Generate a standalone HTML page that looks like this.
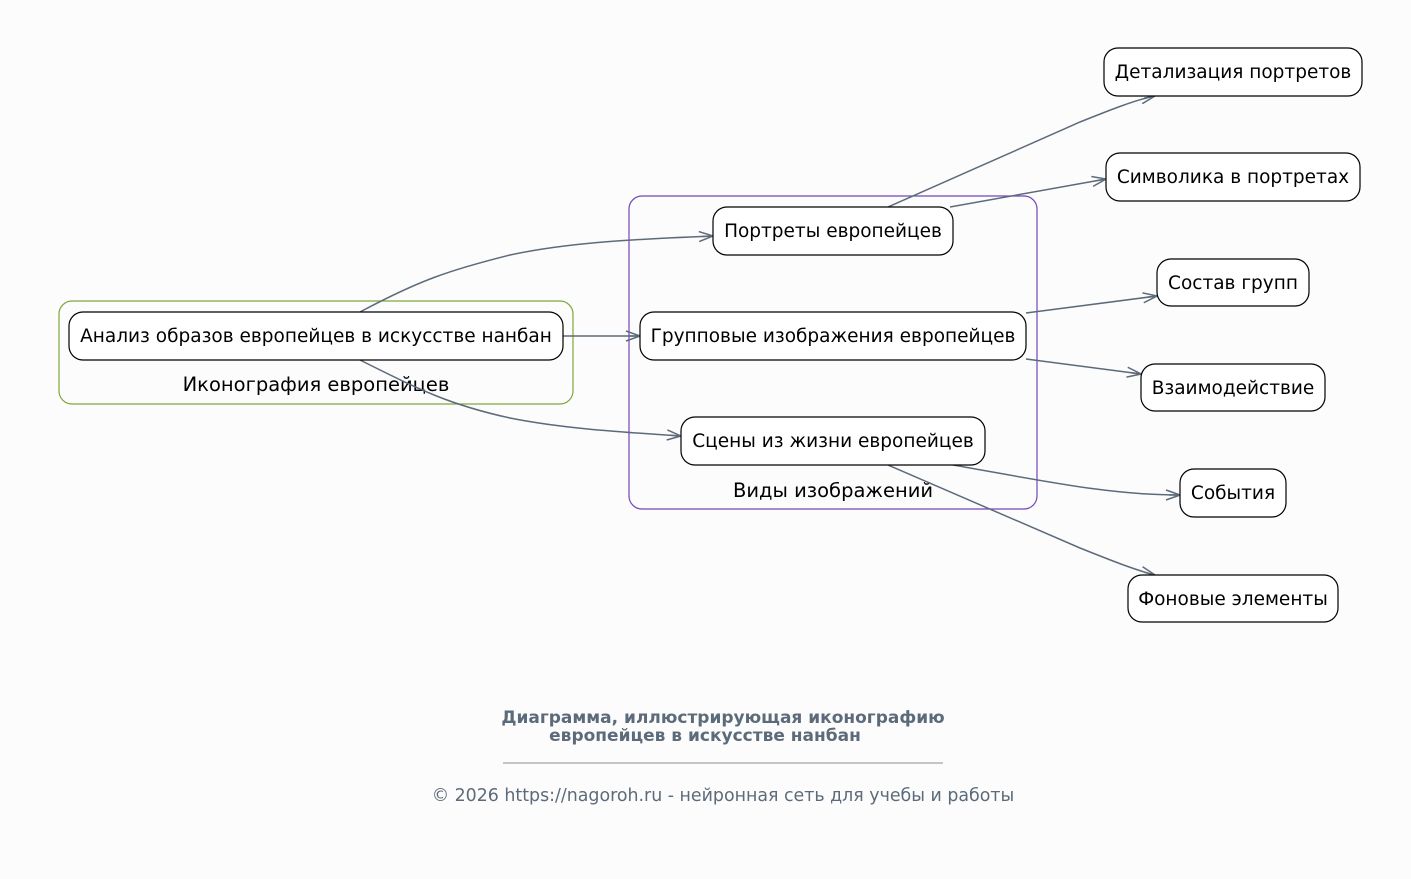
<!DOCTYPE html>
<html><head><meta charset="utf-8"><style>
html,body{margin:0;padding:0;background:#fdfcfc;}
svg{display:block;font-family:"DejaVu Sans","Liberation Sans",sans-serif;}
</style></head><body>
<svg width="1411" height="879" viewBox="0 0 1411 879" xmlns="http://www.w3.org/2000/svg">
<defs>
<marker id="a" markerWidth="16" markerHeight="12" refX="15" refY="6" orient="auto" markerUnits="userSpaceOnUse">
<path d="M1,1 L15,6 L1,11 M15,6 L4,6" fill="none" stroke="#5c6b7a" stroke-width="1.5"/>
</marker>
</defs>
<rect width="1411" height="879" fill="#fdfcfc"/>
<rect x="59" y="301" width="514" height="103" rx="13" fill="none" stroke="#7ea83a" stroke-width="1.2"/>
<text x="316" y="391" font-size="19.5" text-anchor="middle">Иконография европейцев</text>
<rect x="629" y="196" width="408" height="313" rx="13" fill="none" stroke="#7444b8" stroke-width="1.2"/>
<text x="833" y="497" font-size="19.5" text-anchor="middle">Виды изображений</text>
<g fill="none" stroke="#5c6b7a" stroke-width="1.5" marker-end="url(#a)">
<path d="M360,312 C420,280 450,270 510,255 C570,242 640,239 713,236"/>
<path d="M563,336 L640,336"/>
<path d="M360,360 C420,390 450,405 510,418 C570,430 640,433 681,436"/>
<path d="M888,207 C950,180 1020,148 1080,122 C1110,110 1135,100 1155,96"/>
<path d="M950,207 L1106,179"/>
<path d="M1026,313 L1157,296"/>
<path d="M1026,359 L1141,374"/>
<path d="M953,465 C1050,482 1110,495 1180,495"/>
<path d="M888,465 C950,492 1020,522 1080,548 C1110,560 1135,570 1155,575"/>
</g>
<g fill="#fff" stroke="#000" stroke-width="1.2">
<rect x="69" y="312" width="494" height="48" rx="14"/>
<rect x="713" y="207" width="240" height="48" rx="14"/>
<rect x="640" y="312" width="386" height="48" rx="14"/>
<rect x="681" y="417" width="304" height="48" rx="14"/>
<rect x="1104" y="48" width="258" height="48" rx="14"/>
<rect x="1106" y="153" width="254" height="48" rx="14"/>
<rect x="1157" y="259" width="152" height="47" rx="14"/>
<rect x="1141" y="364" width="184" height="47" rx="14"/>
<rect x="1180" y="469" width="106" height="48" rx="14"/>
<rect x="1128" y="575" width="210" height="47" rx="14"/>
</g>
<g font-size="18.5" text-anchor="middle" fill="#000">
<text x="316" y="342">Анализ образов европейцев в искусстве нанбан</text>
<text x="833" y="237">Портреты европейцев</text>
<text x="833" y="342">Групповые изображения европейцев</text>
<text x="833" y="447">Сцены из жизни европейцев</text>
<text x="1233" y="78">Детализация портретов</text>
<text x="1233" y="183">Символика в портретах</text>
<text x="1233" y="289">Состав групп</text>
<text x="1233" y="394">Взаимодействие</text>
<text x="1233" y="499">События</text>
<text x="1233" y="605">Фоновые элементы</text>
</g>
<g fill="#5c6b7a" font-size="17" font-weight="bold">
<text x="723" y="723" text-anchor="middle">Диаграмма, иллюстрирующая иконографию</text>
<text x="705" y="741" text-anchor="middle">европейцев в искусстве нанбан</text>
</g>
<line x1="503" y1="763" x2="943" y2="763" stroke="#5c6b7a" stroke-width="0.8"/>
<text x="723" y="801" font-size="17.4" fill="#5c6b7a" text-anchor="middle">© 2026 https://nagoroh.ru - нейронная сеть для учебы и работы</text>
</svg>
</body></html>
